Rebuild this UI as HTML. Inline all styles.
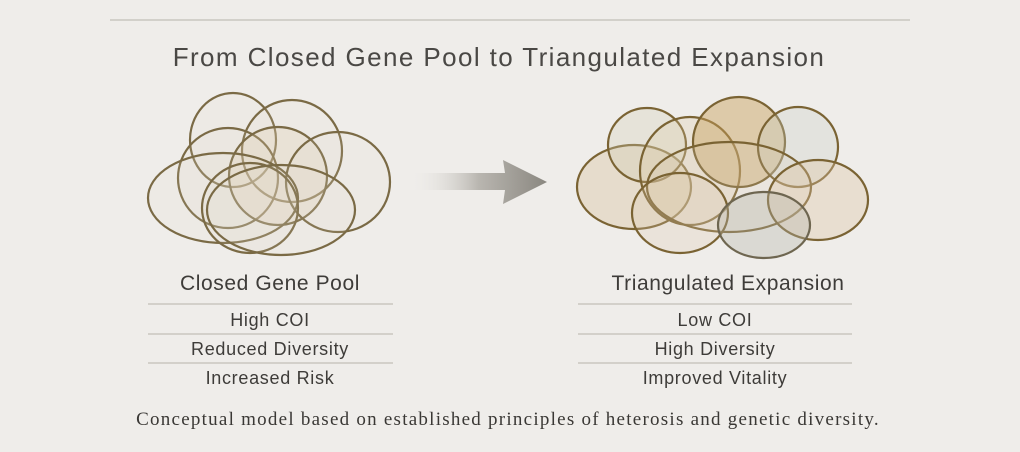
<!DOCTYPE html>
<html><head><meta charset="utf-8"><style>
html,body{margin:0;padding:0}
body{width:1020px;height:452px;background:#efedea;position:relative;overflow:hidden;font-family:"Liberation Sans",sans-serif;color:#3e3c39}
.t{position:absolute;white-space:nowrap;text-align:center}
.h{font-size:21px;letter-spacing:0.6px}
.i{font-size:18px;letter-spacing:0.7px}
</style></head><body>
<svg width="1020" height="452" style="position:absolute;left:0;top:0">
<defs>
<linearGradient id="ag" x1="0" x2="1"><stop offset="0" stop-color="#efedea" stop-opacity="0"/><stop offset="0.5" stop-color="#b9b6b0"/><stop offset="1" stop-color="#8a8780"/></linearGradient>
</defs>
<line x1="110" y1="20" x2="910" y2="20" stroke="#c9c6c0" stroke-width="1.5"/>
<g fill="rgba(220,212,195,0.12)" stroke="#7a6a45" stroke-width="2.2">
<ellipse cx="233" cy="140" rx="43" ry="47"/>
<ellipse cx="292" cy="151" rx="50" ry="51"/>
<ellipse cx="228" cy="178" rx="50" ry="50"/>
<ellipse cx="278" cy="176" rx="49" ry="49" fill="rgba(225,205,170,0.25)"/>
<ellipse cx="338" cy="182" rx="52" ry="50"/>
<ellipse cx="223" cy="198" rx="75" ry="45"/>
<ellipse cx="250" cy="208" rx="48" ry="45"/>
<ellipse cx="281" cy="210" rx="74" ry="45"/>
</g>
<path d="M410 173 L505 173 L503 160 L547 182 L503 204 L505 190 L410 190 Z" fill="url(#ag)"/>
<g stroke="#7a6333" stroke-width="2.2">
<ellipse cx="634" cy="187" rx="57" ry="42" fill="rgba(215,190,150,0.35)"/>
<ellipse cx="647" cy="145" rx="39" ry="37" fill="rgba(210,205,180,0.3)"/>
<ellipse cx="690" cy="171" rx="50" ry="54" fill="rgba(220,200,160,0.25)"/>
<ellipse cx="739" cy="142" rx="46" ry="45" fill="rgba(200,160,90,0.45)"/>
<ellipse cx="798" cy="147" rx="40" ry="40" fill="rgba(200,205,195,0.3)"/>
<ellipse cx="729" cy="187" rx="82" ry="45" fill="rgba(215,200,175,0.2)"/>
<ellipse cx="818" cy="200" rx="50" ry="40" fill="rgba(220,195,160,0.35)"/>
<ellipse cx="680" cy="213" rx="48" ry="40" fill="rgba(220,200,170,0.25)"/>
<ellipse cx="764" cy="225" rx="46" ry="33" fill="rgba(180,180,170,0.35)" stroke="#6e6650"/>
</g>
<g stroke="#c2beb7" stroke-width="1.2">
<line x1="148" y1="304" x2="393" y2="304"/><line x1="148" y1="334" x2="393" y2="334"/><line x1="148" y1="363" x2="393" y2="363"/>
<line x1="578" y1="304" x2="852" y2="304"/><line x1="578" y1="334" x2="852" y2="334"/><line x1="578" y1="363" x2="852" y2="363"/>
</g>
</svg>
<div class="t" style="left:0;width:998px;top:42px;font-size:26px;letter-spacing:1.4px;color:#4a4845">From Closed Gene Pool to Triangulated Expansion</div>
<div class="t h" style="left:140px;width:260px;top:272px">Closed Gene Pool</div>
<div class="t i" style="left:140px;width:260px;top:310px">High COI</div>
<div class="t i" style="left:140px;width:260px;top:339px">Reduced Diversity</div>
<div class="t i" style="left:140px;width:260px;top:368px">Increased Risk</div>
<div class="t h" style="left:591px;width:274px;top:272px">Triangulated Expansion</div>
<div class="t i" style="left:578px;width:274px;top:310px">Low COI</div>
<div class="t i" style="left:578px;width:274px;top:339px">High Diversity</div>
<div class="t i" style="left:578px;width:274px;top:368px">Improved Vitality</div>
<div class="t" style="left:0;width:1016px;top:409px;font-size:19px;letter-spacing:1.25px;font-family:'Liberation Serif',serif;color:#3a3835">Conceptual model based on established principles of heterosis and genetic diversity.</div>
</body></html>
